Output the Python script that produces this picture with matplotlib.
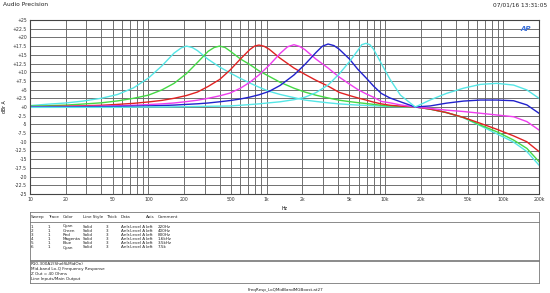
import matplotlib
matplotlib.use("Agg")
import matplotlib.pyplot as plt

# frequency grid (Hz) shared by all sweeps
freq = [10, 14, 20, 28, 40, 55, 75, 100, 130, 165, 210, 260, 320, 400, 490, 600, 720,
        860, 1050, 1300, 1700, 2100, 2600, 3300, 4100, 5000, 5900, 6900, 8000, 9300,
        11000, 13500, 18000, 24000, 33000, 46000, 64000, 88000, 122000, 158000, 200000]

# level in dBr A
cyan_220 = [0.4, 0.8, 1.15, 1.7, 2.5, 3.6, 5.5, 8.3, 11.8, 15.5, 17.5, 16.2, 13.7, 11.5, 9.8,
            8.2, 6.9, 5.7, 4.5, 3.6, 2.7, 2.0, 1.6, 1.2, 0.9, 0.7, 0.55, 0.45, 0.35, 0.25,
            0.15, 0.08, 0.0, -0.6, -1.6, -3.1, -5.4, -7.7, -10.1, -12.8, -16.7]
green_400 = [0.25, 0.35, 0.55, 0.85, 1.2, 1.75, 2.5, 3.4, 4.9, 6.8, 9.6, 12.8, 16.0, 17.5,
             16.1, 13.8, 12.2, 10.4, 8.8, 7.1, 5.4, 4.3, 3.4, 2.6, 1.95, 1.55, 1.25, 1.0,
             0.75, 0.5, 0.3, 0.15, 0.0, -0.6, -1.6, -3.0, -5.2, -7.1, -9.5, -11.9, -15.7]
red_800 = [0.1, 0.15, 0.25, 0.35, 0.5, 0.75, 1.05, 1.45, 1.9, 2.5, 3.3, 4.3, 5.9, 7.9, 10.6,
           13.8, 16.5, 17.8, 16.6, 14.0, 11.2, 9.4, 7.7, 6.0, 4.2, 3.3, 2.6, 2.0, 1.4, 0.9,
           0.5, 0.25, 0.0, -0.6, -1.6, -3.0, -4.7, -6.4, -8.3, -10.0, -12.8]
magenta_1k6 = [0.05, 0.08, 0.12, 0.18, 0.25, 0.35, 0.5, 0.7, 0.9, 1.15, 1.55, 1.95, 2.5, 3.2,
               4.0, 5.4, 7.1, 9.2, 12.0, 15.4, 17.9, 16.5, 13.8, 11.2, 8.6, 6.6, 5.0, 3.8,
               2.8, 1.6, 1.2, 0.6, 0.0, -0.4, -0.9, -1.3, -1.8, -2.3, -2.8, -4.2, -6.6]
blue_3k5 = [0.0, 0.02, 0.05, 0.08, 0.12, 0.17, 0.24, 0.32, 0.42, 0.55, 0.75, 0.92, 1.15, 1.5,
            1.85, 2.3, 2.85, 3.5, 4.5, 6.2, 9.2, 12.2, 15.6, 18.1, 16.6, 13.8, 10.8, 8.4,
            6.0, 3.9, 2.6, 1.5, 0.0, 0.3, 1.1, 1.7, 2.0, 2.0, 1.8, 0.6, -1.8]
cyan_7k5 = [-0.1, -0.1, -0.1, -0.1, -0.1, -0.1, -0.05, 0.0, 0.0, 0.05, 0.1, 0.15, 0.2, 0.25,
            0.3, 0.5, 0.7, 0.9, 1.2, 1.5, 2.1, 2.8, 4.1, 6.3, 9.5, 13.0, 16.3, 18.3, 16.6,
            12.5, 8.0, 3.4, 0.0, 2.0, 3.9, 5.4, 6.5, 6.8, 6.3, 4.9, 2.5]

# extra readings either side of each peak (Hz, dB)
cyan_220_pk_f, cyan_220_pk = [190, 235], [17.0, 17.1]
green_400_pk_f, green_400_pk = [360, 445], [17.1, 17.1]
red_800_pk_f, red_800_pk = [790, 950], [17.5, 17.45]
magenta_1k6_pk_f, magenta_1k6_pk = [1500, 1900], [17.3, 17.4]
blue_3k5_pk_f, blue_3k5_pk = [2950, 3700], [17.45, 17.65]
cyan_7k5_pk_f, cyan_7k5_pk = [6350, 7450], [17.9, 17.9]

sweeps = [(cyan_220, cyan_220_pk_f, cyan_220_pk),
          (green_400, green_400_pk_f, green_400_pk),
          (red_800, red_800_pk_f, red_800_pk),
          (magenta_1k6, magenta_1k6_pk_f, magenta_1k6_pk),
          (blue_3k5, blue_3k5_pk_f, blue_3k5_pk),
          (cyan_7k5, cyan_7k5_pk_f, cyan_7k5_pk)]
colors = ['#55e6e6', '#44d844', '#e02222', '#ee3cee', '#2222cc', '#55e6e6']

x_ticks = [10, 20, 50, 100, 200, 500, 1000, 2000, 5000, 10000, 20000, 50000, 100000, 200000]
x_labels = ['10', '20', '50', '100', '200', '500', '1k', '2k', '5k', '10k', '20k', '50k',
            '100k', '200k']
y_ticks = [25, 22.5, 20, 17.5, 15, 12.5, 10, 7.5, 5, 2.5, 0, -2.5, -5, -7.5, -10, -12.5,
           -15, -17.5, -20, -22.5, -25]
y_labels = ['+25', '+22.5', '+20', '+17.5', '+15', '+12.5', '+10', '+7.5', '+5', '+2.5',
            '+0', '-2.5', '-5', '-7.5', '-10', '-12.5', '-15', '-17.5', '-20', '-22.5', '-25']

# table rows under the graph
t_header = ['Sweep', 'Trace', 'Color', 'Line Style', 'Thick', 'Data', 'Axis', 'Comment']
t_cols = [31, 48, 63, 83, 106, 121, 146, 158]
t_rows = [['1', '1', 'Cyan', 'Solid', '3', 'Anlr.Level A', 'Left', '220Hz'],
          ['2', '1', 'Green', 'Solid', '3', 'Anlr.Level A', 'Left', '400Hz'],
          ['3', '1', 'Red', 'Solid', '3', 'Anlr.Level A', 'Left', '800Hz'],
          ['4', '1', 'Magenta', 'Solid', '3', 'Anlr.Level A', 'Left', '1.6kHz'],
          ['5', '1', 'Blue', 'Solid', '3', 'Anlr.Level A', 'Left', '3.5kHz'],
          ['6', '1', 'Cyan', 'Solid', '3', 'Anlr.Level A', 'Left', '7.5k']]
notes = ['R10-300A2(Shelf&MidOn)', 'Mid-band Lo-Q Frequency Response', 'Z Out = 40 Ohms',
         'Line Inputs/Main Output']

W, H = 550, 293
fig = plt.figure(figsize=(W / 100, H / 100), dpi=100)
ax = fig.add_axes([30 / W, 1 - 194 / H, 509 / W, 174 / H])

for (s, pf, pv), c in zip(sweeps, colors):
    pts = sorted(list(zip(freq, s)) + list(zip(pf, pv)))
    ax.semilogx([p[0] for p in pts], [p[1] for p in pts], color=c, lw=1.0)

ax.set_xlim(10, 200000)
ax.set_ylim(-25, 25)
ax.set_xticks(x_ticks)
ax.set_xticklabels(x_labels)
ax.set_yticks(y_ticks)
ax.set_yticklabels(y_labels)
ax.minorticks_on()
ax.tick_params(which='both', length=0, labelsize=3.3, pad=2, colors='#333333')
ax.grid(which='both', axis='x', color='#666666', lw=0.65)
ax.grid(which='major', axis='y', color='#666666', lw=0.65)
ax.yaxis.set_minor_locator(matplotlib.ticker.NullLocator())
for sp in ax.spines.values():
    sp.set_color('#444444')
    sp.set_linewidth(0.8)
ax.set_xlabel('Hz', fontsize=3.3, labelpad=3)
ax.set_ylabel('dBr A', fontsize=3.3, labelpad=4)
ax.text(0.985, 0.965, 'AP', transform=ax.transAxes, ha='right', va='top', color='#3a6fd8',
        fontsize=5, fontstyle='italic', fontweight='bold')

# header line
fig.text(3 / W, 1 - 5 / H, 'Audio Precision', fontsize=4.2, va='center', color='#222222')
fig.text(547 / W, 1 - 5 / H, '07/01/16 13:31:05', fontsize=4.2, va='center', ha='right',
         color='#222222')

# table box
def px_line(x0, x1, y0, y1):
    fig.add_artist(plt.Line2D([x0 / W, x1 / W], [1 - y0 / H, 1 - y1 / H], color='#777777',
                              lw=0.6))

px_line(30, 539, 212, 212)
px_line(30, 539, 222, 222)
px_line(30, 539, 259.5, 259.5)
px_line(30, 539, 261, 261)
px_line(30, 539, 283, 283)
px_line(30, 30, 212, 283)
px_line(539, 539, 212, 283)

for lab, xc in zip(t_header, t_cols):
    fig.text(xc / W, 1 - 217.3 / H, lab, fontsize=3, va='center', color='#222222')
for i, row in enumerate(t_rows):
    for cell, xc in zip(row, t_cols):
        fig.text(xc / W, 1 - (226.5 + 4.2 * i) / H, cell, fontsize=3, va='center',
                 color='#222222')
for i, n in enumerate(notes):
    fig.text(31 / W, 1 - (264.3 + 5 * i) / H, n, fontsize=3, va='center', color='#222222')

fig.text(286 / W, 1 - 289.5 / H, 'FreqResp_LoQMidBandMGBoost.at27', fontsize=3, va='center',
         ha='center', color='#222222')

fig.savefig('out.png', dpi=100)
